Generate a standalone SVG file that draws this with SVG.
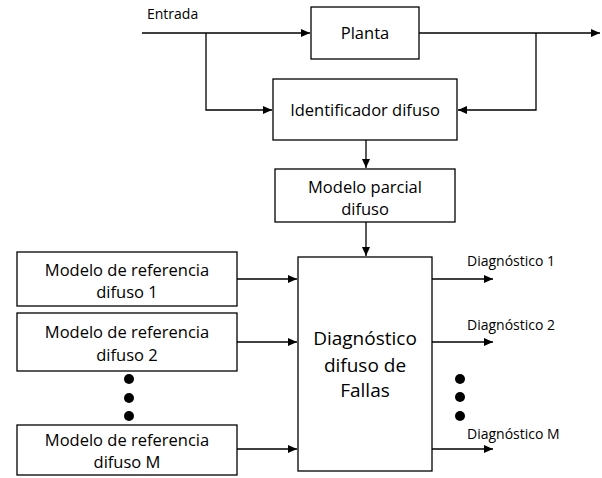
<svg xmlns="http://www.w3.org/2000/svg" width="602" height="478" viewBox="0 0 602 478">
<defs>
<marker id="ah" markerWidth="10" markerHeight="8" refX="9" refY="4" orient="auto" markerUnits="userSpaceOnUse">
<path d="M0,0 L9,4 L0,8 Z" fill="#000"/>
</marker>
<style>
.box{fill:#fff;stroke:#000;stroke-width:1.3}
.ln{fill:none;stroke:#000;stroke-width:1.3}
.t{font-family:"Open Sans","Liberation Sans",Arial,sans-serif;fill:#000;text-anchor:middle}
.s{font-size:16.5px}
.lab{font-family:"Open Sans","Liberation Sans",Arial,sans-serif;font-size:14px;fill:#000}
</style>
</defs>
<rect width="602" height="478" fill="#fff"/>
<g id="connectors">
<path class="ln" d="M142,33 H310" marker-end="url(#ah)"/>
<path class="ln" d="M206,33 V110 H272" marker-end="url(#ah)"/>
<path class="ln" d="M419,33 H600" marker-end="url(#ah)"/>
<path class="ln" d="M536,33 V110 H458" marker-end="url(#ah)"/>
<path class="ln" d="M366,140 V168" marker-end="url(#ah)"/>
<path class="ln" d="M366,222 V256" marker-end="url(#ah)"/>
<path class="ln" d="M237,279 H297" marker-end="url(#ah)"/>
<path class="ln" d="M237,342 H297" marker-end="url(#ah)"/>
<path class="ln" d="M237,449 H297" marker-end="url(#ah)"/>
<path class="ln" d="M432,279 H493" marker-end="url(#ah)"/>
<path class="ln" d="M432,342 H493" marker-end="url(#ah)"/>
<path class="ln" d="M432,449 H493" marker-end="url(#ah)"/>
</g>
<g id="entrada"><text class="lab" font-size="13" x="147" y="19">Entrada</text></g>
<g id="planta"><rect class="box" x="311" y="7" width="108" height="52"/><text class="t s" x="365" y="39">Planta</text></g>
<g id="identificador"><rect class="box" x="273" y="79" width="184" height="61"/><text class="t s" x="365" y="116">Identificador difuso</text></g>
<g id="parcial"><rect class="box" x="275" y="169" width="180" height="53"/><text class="t s" x="365" y="193">Modelo parcial</text><text class="t s" x="365" y="215">difuso</text></g>
<g id="diagnostico"><rect class="box" x="298" y="257" width="134" height="214"/><text class="t" font-size="19" x="365" y="345">Diagnóstico</text><text class="t" font-size="19" x="365" y="372">difuso de</text><text class="t" font-size="19" x="365" y="397">Fallas</text></g>
<g id="ref1"><rect class="box" x="17" y="252" width="220" height="54"/><text class="t s" x="127" y="276">Modelo de referencia</text><text class="t s" x="127" y="298">difuso 1</text></g>
<g id="ref2"><rect class="box" x="17" y="313" width="220" height="58"/><text class="t s" x="127" y="338">Modelo de referencia</text><text class="t s" x="127" y="361">difuso 2</text></g>
<g id="refM"><rect class="box" x="17" y="425" width="220" height="50"/><text class="t s" x="127" y="446">Modelo de referencia</text><text class="t s" x="127" y="468">difuso M</text></g>
<g id="dotsL"><circle cx="129" cy="379" r="5"/><circle cx="129" cy="398" r="5"/><circle cx="129" cy="416" r="5"/></g>
<g id="dotsR"><circle cx="460" cy="379" r="5"/><circle cx="460" cy="397" r="5"/><circle cx="460" cy="416" r="5"/></g>
<g id="outlabels">
<text class="lab" x="467" y="266">Diagnóstico 1</text>
<text class="lab" x="467" y="330">Diagnóstico 2</text>
<text class="lab" x="467" y="439">Diagnóstico M</text>
</g>
</svg>
